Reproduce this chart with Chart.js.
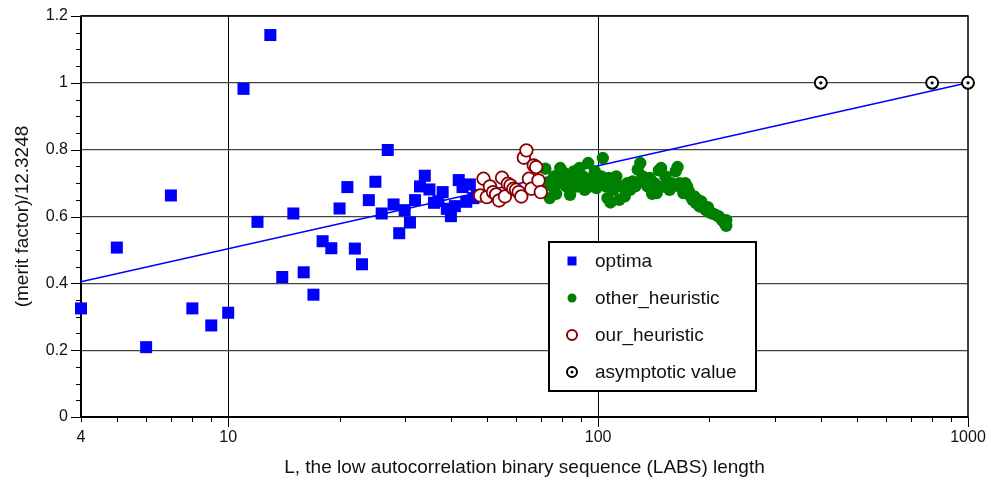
<!DOCTYPE html>
<html>
<head>
<meta charset="utf-8">
<title>LABS merit factor</title>
<script src="https://cdn.jsdelivr.net/npm/chart.js@4/dist/chart.umd.min.js"></script>
<style>
  html, body { margin: 0; padding: 0; background: #fff; }
</style>
</head>
<body>
<canvas id="myChart" width="991" height="481"></canvas>
<script>
// sequence lengths and normalised merit factors, (merit factor)/12.3248
const optimaL = [4,5,6,7,8,9,10,11,12,13,14,15,16,17,18,19,20,21,22,23,24,25,26,27,28,29,30,31,32,33,34,35,36,37,38,39,40,41,42,43,44,45,46,47]
const optimaF = [0.325,0.507,0.209,0.663,0.325,0.274,0.312,0.982,0.584,1.143,0.419,0.609,0.433,0.366,0.526,0.505,0.624,0.688,0.504,0.457,0.649,0.704,0.609,0.799,0.636,0.550,0.619,0.582,0.649,0.690,0.722,0.681,0.641,0.646,0.673,0.623,0.601,0.631,0.709,0.688,0.644,0.696,0.655,0.664]

const otherL = [72,73,74,75,76,77,78,79,80,81,82,83,84,85,86,87,88,89,90,91,92,93,94,95,96,97,98,99,100,101,102,103,104,105,106,107,108,109,110,112,114,116,118,120,122,124,126,128,130,132,134,136,138,140,142,144,146,148,150,152,154,156,158,160,162,164,166,168,170,172,174,176,178,180,182,184,186,188,190,192,194,196,198,200,204,208,212,216,220,222,222]
const otherF = [0.743,0.700,0.655,0.690,0.720,0.668,0.700,0.745,0.705,0.730,0.690,0.715,0.665,0.700,0.735,0.710,0.690,0.745,0.700,0.720,0.680,0.705,0.760,0.690,0.715,0.700,0.735,0.685,0.710,0.695,0.720,0.775,0.700,0.690,0.655,0.715,0.642,0.700,0.680,0.720,0.650,0.690,0.660,0.700,0.680,0.705,0.690,0.740,0.760,0.720,0.700,0.690,0.715,0.668,0.700,0.670,0.738,0.745,0.690,0.720,0.700,0.680,0.700,0.690,0.735,0.748,0.700,0.688,0.670,0.700,0.690,0.675,0.660,0.650,0.660,0.640,0.650,0.630,0.645,0.628,0.625,0.618,0.628,0.612,0.609,0.605,0.600,0.590,0.580,0.589,0.572]

const oursL = [48,49,50,51,52,53,54,55,56,57,58,59,60,61,62,63,64,65,66,67,68,69,70]
const oursF = [0.663,0.713,0.658,0.690,0.673,0.666,0.648,0.716,0.660,0.698,0.693,0.683,0.680,0.673,0.660,0.776,0.798,0.713,0.683,0.753,0.748,0.708,0.673]

const asymL = [400,800,1000]
const asymF = [1,1,1]

// fitted trend, end points
const trendL = [4,1000]
const trendF = [0.405,1.0]

const xTickValues = [4,5,6,7,8,9,10,20,30,40,50,60,70,80,90,100,200,300,400,500,600,700,800,900,1000]
const xLabels = [4,10,100,1000]

const pts = (xs, ys) => xs.map((v, i) => ({ x: v, y: ys[i] }))
const isMajorY = (v) => Math.abs(v * 5 - Math.round(v * 5)) < 1e-6

// frame and outward tick marks, drawn before the markers
const frameTicks = {
    id: 'frameTicks',
    beforeDatasetsDraw(chart) {
        const { ctx, chartArea: a, scales: { x, y } } = chart
        ctx.save()
        ctx.strokeStyle = '#000'
        ctx.lineWidth = 1
        y.ticks.forEach(t => {
            const py = Math.round(y.getPixelForValue(t.value)) + 0.5
            const len = isMajorY(t.value) ? 10 : 5
            ctx.beginPath()
            ctx.moveTo(a.left - len, py)
            ctx.lineTo(a.left, py)
            ctx.stroke()
        })
        x.ticks.forEach(t => {
            const px = Math.round(x.getPixelForValue(t.value)) + 0.5
            const len = [10, 100, 1000].includes(t.value) ? 10 : 5
            ctx.beginPath()
            ctx.moveTo(px, a.bottom)
            ctx.lineTo(px, a.bottom + len)
            ctx.stroke()
        })
        ctx.lineWidth = 1.5
        ctx.strokeRect(a.left, a.top, a.right - a.left, a.bottom - a.top)
        ctx.lineWidth = 2
        ctx.beginPath()
        ctx.moveTo(a.left, a.top)
        ctx.lineTo(a.left, a.bottom)
        ctx.lineTo(a.right, a.bottom)
        ctx.stroke()
        ctx.restore()
    }
}

// boxed legend inside the plot area
const legendBox = {
    id: 'legendBox',
    afterDraw(chart) {
        const { ctx, chartArea: a } = chart
        const left = a.left + 468, top = a.top + 226, w = 207, h = 149
        ctx.save()
        ctx.fillStyle = '#fff'
        ctx.fillRect(left, top, w, h)
        ctx.strokeStyle = '#000'
        ctx.lineWidth = 2
        ctx.strokeRect(left, top, w, h)
        const items = ['optima', 'other_heuristic', 'our_heuristic', 'asymptotic value']
        ctx.font = '19px "Liberation Sans", Arial, sans-serif'
        ctx.textBaseline = 'middle'
        items.forEach((label, i) => {
            const cy = top + 19 + i * 37
            const cx = left + 23
            ctx.lineWidth = 2
            if (i === 0) {
                ctx.fillStyle = '#0000ff'
                ctx.fillRect(cx - 4.5, cy - 4.5, 9, 9)
            } else if (i === 1) {
                ctx.fillStyle = '#008000'
                ctx.beginPath(); ctx.arc(cx, cy, 4.5, 0, Math.PI * 2); ctx.fill()
            } else if (i === 2) {
                ctx.strokeStyle = '#8b0000'
                ctx.beginPath(); ctx.arc(cx, cy, 5, 0, Math.PI * 2); ctx.stroke()
            } else {
                ctx.strokeStyle = '#000'
                ctx.beginPath(); ctx.arc(cx, cy, 5, 0, Math.PI * 2); ctx.stroke()
                ctx.fillStyle = '#000'
                ctx.beginPath(); ctx.arc(cx, cy, 1.5, 0, Math.PI * 2); ctx.fill()
            }
            ctx.fillStyle = '#111'
            ctx.fillText(label, left + 46, cy + 1)
        })
        ctx.restore()
    }
}

const ctx = document.getElementById('myChart').getContext('2d')

const data = {
    datasets: [
        {
            label: 'trend',
            type: 'line',
            data: pts(trendL, trendF),
            borderColor: '#0000ff',
            borderWidth: 1.5,
            pointRadius: 0,
            fill: false,
            order: 5,
        },
        {
            label: 'optima',
            data: pts(optimaL, optimaF),
            pointStyle: 'rect',
            pointRadius: 8.5,
            pointBorderWidth: 0,
            backgroundColor: '#0000ff',
            borderColor: '#0000ff',
            order: 4,
        },
        {
            label: 'other_heuristic',
            data: pts(otherL, otherF),
            pointRadius: 6.2,
            pointBorderWidth: 0,
            backgroundColor: '#008000',
            borderColor: '#008000',
            order: 3,
        },
        {
            label: 'our_heuristic',
            data: pts(oursL, oursF),
            pointRadius: 6.3,
            pointBorderWidth: 1.8,
            backgroundColor: '#ffffff',
            borderColor: '#8b0000',
            order: 2,
        },
        {
            label: 'asymptotic value',
            data: pts(asymL, asymF),
            pointRadius: 6,
            pointBorderWidth: 2,
            backgroundColor: '#ffffff',
            borderColor: '#000000',
            order: 1,
        },
        {
            label: 'asymptotic centre',
            data: pts(asymL, asymF),
            pointRadius: 1.6,
            pointBorderWidth: 0,
            backgroundColor: '#000000',
            order: 0,
        },
    ],
}
data.datasets.forEach(d => { d.clip = false })

const tickFont = { family: '"Liberation Sans", Arial, sans-serif', size: 16 }
const titleFont = { family: '"Liberation Sans", Arial, sans-serif', size: 19, lineHeight: 1.2 }

const config = {
    type: 'scatter',
    data: data,
    plugins: [frameTicks, legendBox],
    options: {
        responsive: false,
        animation: false,
        devicePixelRatio: 1,
        layout: { padding: { left: 0, right: 23, top: 16, bottom: 0 } },
        plugins: {
            legend: { display: false },
            tooltip: { enabled: false },
        },
        scales: {
            x: {
                type: 'logarithmic',
                min: 4,
                max: 1000,
                afterBuildTicks: (scale) => {
                    scale.ticks = xTickValues.map(v => ({ value: v }))
                },
                afterFit: (scale) => {
                    scale.height = 64
                    scale.paddingLeft = 0
                    scale.paddingRight = 0
                },
                border: { display: false },
                grid: {
                    drawTicks: false,
                    lineWidth: 1,
                    color: (c) => (c.tick && [10, 100].includes(c.tick.value)) ? '#000' : 'transparent',
                },
                ticks: {
                    autoSkip: false,
                    maxRotation: 0,
                    minRotation: 0,
                    padding: 11,
                    color: '#111',
                    font: tickFont,
                    callback: (v) => xLabels.includes(v) ? String(v) : '',
                },
                title: {
                    display: true,
                    text: 'L, the low autocorrelation binary sequence (LABS) length',
                    color: '#111',
                    font: titleFont,
                    padding: { top: 0, bottom: 2 },
                },
            },
            y: {
                min: 0,
                max: 1.2,
                afterFit: (scale) => {
                    scale.width = 81
                    scale.paddingTop = 0
                    scale.paddingBottom = 0
                },
                border: { display: false },
                grid: {
                    drawTicks: false,
                    lineWidth: 1.2,
                    color: (c) => (c.tick && isMajorY(c.tick.value)) ? '#444' : 'transparent',
                },
                ticks: {
                    stepSize: 0.05,
                    autoSkip: false,
                    padding: 13,
                    color: '#111',
                    font: tickFont,
                    callback: (v) => isMajorY(v) ? String(Math.round(v * 10) / 10) : '',
                },
                title: {
                    display: true,
                    text: '(merit factor)/12.3248',
                    color: '#111',
                    font: titleFont,
                    padding: { top: 11, bottom: 0 },
                },
            },
        },
    },
}
const myChart = new Chart(ctx, config)
</script>
</body>
</html>
